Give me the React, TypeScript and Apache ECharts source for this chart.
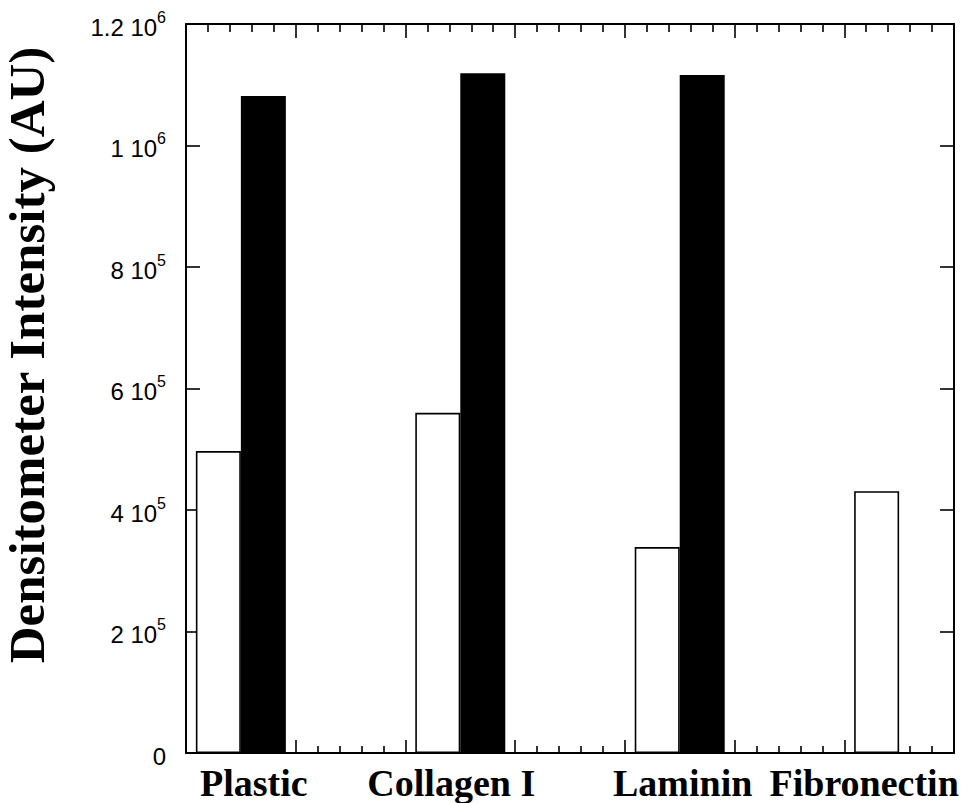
import React, { useEffect, useRef } from "react";
import * as echarts from "echarts";

// ---- data ----
const categories = ["Plastic", "Collagen I", "Laminin", "Fibronectin"];
const seriesWhite = [497000, 560000, 339000, 431000];
const seriesBlack = [1081500, 1119000, 1116000, 0];
const yTickValues = [0, 200000, 400000, 600000, 800000, 1000000, 1200000];
const yTickMantissa = ["0", "2", "4", "6", "8", "1", "1.2"];
const yTickExponent = ["", "5", "5", "5", "5", "6", "6"];
const yTitle = "Densitometer Intensity (AU)";

// ---- layout (not data) ----
const slotCount = 7; // categories sit in every other slot
const labelShift = [13, -9, 3, -35];
const SANS = '"Liberation Sans", Arial, Helvetica, sans-serif';
const SERIF = '"Liberation Serif", "Times New Roman", Times, serif';

const slotIndexOf = (i: number) => i * 2;

export default function App() {
  const ref = useRef<HTMLDivElement>(null);

  useEffect(() => {
    if (!ref.current) return;
    const chart = echarts.init(ref.current, undefined, { renderer: "svg" });

    const slots: string[] = [];
    for (let s = 0; s < slotCount; s++) slots.push("");
    categories.forEach((c, i) => (slots[slotIndexOf(i)] = c));

    const toSlots = (vals: number[]) => {
      const arr: (number | string)[] = slots.map(() => "-");
      vals.forEach((v, i) => (arr[slotIndexOf(i)] = v));
      return arr;
    };

    const yFormatter = (v: number) => {
      const i = yTickValues.findIndex((t) => Math.abs(t - v) < 1);
      if (i < 0) return "";
      return yTickExponent[i]
        ? `{m|${yTickMantissa[i]} 10}{e|${yTickExponent[i]}}`
        : `{m|${yTickMantissa[i]}}`;
    };

    const gridBox = { left: 186, right: 15, top: 24, bottom: 50 };
    const yMax = yTickValues[yTickValues.length - 1];
    const yInterval = yTickValues[1] - yTickValues[0];

    const frameX = (position: "top" | "bottom", major: number, minor: number) => ({
      type: "value",
      gridIndex: 1,
      position,
      min: 0,
      max: slotCount,
      interval: 1,
      axisLine: { show: true, onZero: false, lineStyle: { color: "#000", width: 2 } },
      axisTick: { show: true, inside: true, length: major, lineStyle: { color: "#000", width: 1.6 } },
      minorTick: { show: true, splitNumber: 5, length: minor, lineStyle: { color: "#000", width: 1.6 } },
      axisLabel: { show: false },
      splitLine: { show: false },
      minorSplitLine: { show: false },
    });

    const frameY = (position: "left" | "right", labels: boolean) => ({
      type: "value",
      gridIndex: 1,
      position,
      min: 0,
      max: yMax,
      interval: yInterval,
      axisLine: { show: true, onZero: false, lineStyle: { color: "#000", width: 2 } },
      axisTick: { show: true, inside: true, length: 14, lineStyle: { color: "#000", width: 1.6 } },
      splitLine: { show: false },
      axisLabel: labels
        ? {
            show: true,
            inside: false,
            margin: 20,
            formatter: yFormatter,
            rich: {
              m: { fontSize: 24, fontFamily: SANS, color: "#000", lineHeight: 30, verticalAlign: "bottom" },
              e: { fontSize: 16, fontFamily: SANS, color: "#000", lineHeight: 16, verticalAlign: "top" },
            },
          }
        : { show: false },
    });

    chart.setOption({
      animation: false,
      backgroundColor: "#fff",
      grid: [
        { ...gridBox, containLabel: false },
        { ...gridBox, containLabel: false },
      ],
      xAxis: [
        {
          type: "category",
          gridIndex: 0,
          data: slots,
          boundaryGap: true,
          axisLine: { show: false },
          axisTick: { show: false },
          axisLabel: { show: false },
          splitLine: { show: false },
        },
        frameX("bottom", 13, 7),
        frameX("top", 14, 8),
      ],
      yAxis: [
        {
          type: "value",
          gridIndex: 0,
          min: 0,
          max: yMax,
          interval: yInterval,
          axisLine: { show: false },
          axisTick: { show: false },
          axisLabel: { show: false },
          splitLine: { show: false },
        },
        frameY("left", true),
        frameY("right", false),
      ],
      series: [
        {
          type: "bar",
          xAxisIndex: 0,
          yAxisIndex: 0,
          data: toSlots(seriesWhite),
          barWidth: 45,
          barGap: "0%",
          itemStyle: { color: "#fff", borderColor: "#000", borderWidth: 1.6 },
          z: 3,
        },
        {
          type: "bar",
          xAxisIndex: 0,
          yAxisIndex: 0,
          data: toSlots(seriesBlack),
          barWidth: 45,
          barGap: "0%",
          itemStyle: { color: "#000" },
          z: 4,
        },
      ],
    });

    const labelGraphics = categories.map((c, i) => {
      const px = chart.convertToPixel({ xAxisIndex: 0 }, slotIndexOf(i)) as number;
      return {
        type: "text",
        x: px + labelShift[i],
        y: 783,
        style: {
          text: c,
          fontFamily: SERIF,
          fontWeight: "bold",
          fontSize: 38,
          fill: "#000",
          align: "center",
          verticalAlign: "middle",
        },
      };
    });

    chart.setOption({
      graphic: [
        {
          type: "text",
          x: 27,
          y: 355,
          rotation: Math.PI / 2,
          style: {
            text: yTitle,
            fontFamily: SERIF,
            fontWeight: "bold",
            fontSize: 51,
            fill: "#000",
            align: "center",
            verticalAlign: "middle",
          },
        },
        ...labelGraphics,
      ],
    });

    return () => chart.dispose();
  }, []);

  return (
    <div
      ref={ref}
      style={{ position: "fixed", left: 0, top: 0, width: 969, height: 803, background: "#fff" }}
    />
  );
}
